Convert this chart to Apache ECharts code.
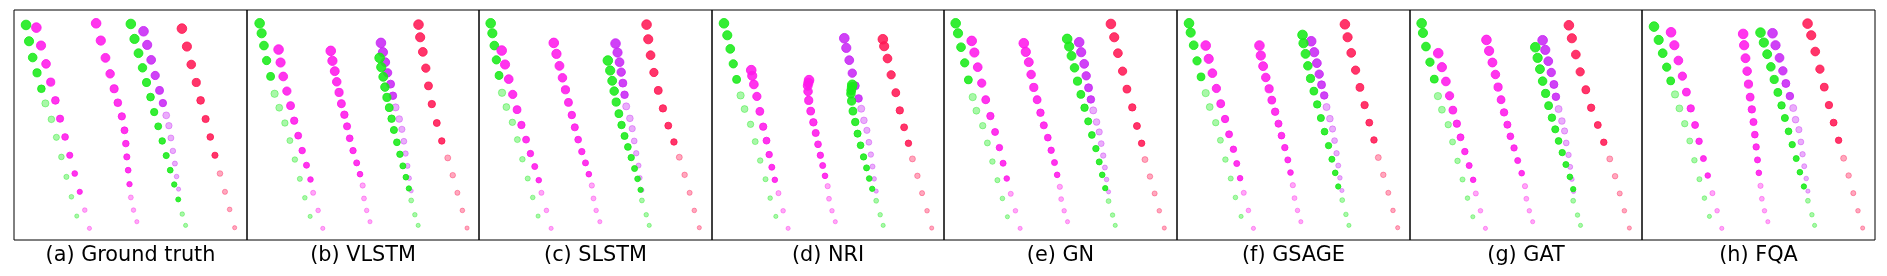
<!DOCTYPE html>
<html><head><meta charset="utf-8">
<script src="https://cdn.jsdelivr.net/npm/echarts@6/dist/echarts.min.js"></script>
<style>html,body{margin:0;padding:0;background:#fff}#c{width:1887px;height:276px}</style>
</head><body><div id="c"></div>
<script>
// Panel captions
const captions = ['(a) Ground truth','(b) VLSTM','(c) SLSTM','(d) NRI','(e) GN','(f) GSAGE','(g) GAT','(h) FQA'];

// Positions in panel units (x: 0..698 left->right, y: 0..692 top->bottom), one list per panel
const greenLeftX = [
 [36,45,56,69,82,94,112,127,142,157,172,188],
 [38,44,51,59,71,83,97,114,129,144,159,174,190],
 [35,40,46,52,60,69,82,100,115,130,146,161,177],
 [36,46,55,64,74,86,98,116,130,145,161,175,192],
 [35,42,51,62,73,86,97,116,130,145,160,175,190],
 [36,41,50,60,72,86,98,116,130,145,161,175,192],
 [35,39,48,60,73,84,96,115,128,143,158,173,189],
 [36,50,62,74,86,99,112,128,143,157,172,187,202]];
const greenLeftY = [
 [45,94,143,189,237,281,329,383,442,502,562,620],
 [40,70,107,152,200,252,294,340,393,450,508,565,621],
 [40,70,107,150,197,249,292,338,390,449,507,564,620],
 [40,76,117,162,209,257,298,344,396,453,509,566,621],
 [40,70,112,159,210,262,303,348,400,456,512,567,622],
 [40,68,106,153,201,250,292,339,392,450,507,564,621],
 [40,69,110,157,208,259,300,345,397,454,510,566,622],
 [50,90,130,172,213,254,296,342,394,452,509,566,621]];

const magentaLeftX = [
 [67,81,96,110,124,138,153,167,182,197,212,226],
 [95,101,109,120,131,142,154,166,179,191,199,214,228],
 [68,78,89,101,114,127,141,154,167,179,187,202,216],
 [118,121,126,135,144,154,164,172,180,189,200,214,229],
 [83,91,101,113,125,139,153,166,177,188,200,214,228],
 [86,95,106,118,131,144,156,169,179,189,200,214,229],
 [85,96,108,119,129,141,152,165,178,190,198,212,227],
 [87,97,109,121,133,146,159,171,184,197,211,225,239]];
const magentaLeftY = [
 [53,107,162,217,272,327,382,437,492,547,602,657],
 [119,158,200,244,288,333,378,423,467,510,550,603,657],
 [122,164,208,254,300,346,390,432,471,512,550,603,657],
 [181,198,224,260,305,351,393,435,473,511,551,604,657],
 [93,128,172,220,270,319,367,414,461,507,553,604,657],
 [107,147,190,236,282,328,374,419,462,506,550,603,657],
 [130,172,215,258,301,342,383,426,468,511,552,604,657],
 [67,106,152,199,247,296,346,395,447,498,551,604,657]];

const magentaMidX = [
 [246,260,274,288,300,311,323,331,335,338,342,346,350,358,368],
 [252,257,264,270,277,284,293,301,309,319,330,340,348,352,360,370],
 [224,232,241,250,259,268,278,287,297,308,319,329,338,343,351,362],
 [292,290,288,289,291,297,305,312,319,326,333,340,348,352,361,371],
 [239,245,254,261,269,279,289,299,311,321,331,339,347,351,360,370],
 [247,251,258,266,276,284,294,304,313,323,332,340,347,352,361,371],
 [230,238,248,257,265,274,283,293,302,313,324,336,346,350,359,369],
 [303,306,310,315,319,324,329,334,338,342,346,350,355,359,367,377]];
const magentaMidY = [
 [40,92,144,192,237,279,320,362,402,442,482,524,564,602,637],
 [123,153,184,216,248,282,315,350,386,423,460,494,528,567,603,637],
 [99,132,168,204,240,278,316,353,390,426,460,494,528,567,603,637],
 [211,219,228,245,272,304,338,370,404,437,468,499,530,568,604,637],
 [100,126,157,194,233,270,309,347,384,422,459,496,532,569,604,637],
 [107,137,169,203,237,271,306,342,378,414,451,489,527,566,603,637],
 [90,123,158,194,232,270,308,345,380,415,453,491,530,568,604,637],
 [72,106,145,184,223,262,299,337,375,412,451,490,529,568,604,637]];

const purpleX = [
 [388,399,411,423,436,446,456,464,470,476,482,487,493],
 [403,409,416,423,432,439,447,458,466,472,477,483,488,494],
 [409,415,421,426,431,436,441,452,459,465,471,478,482,488],
 [398,404,413,422,431,441,449,457,466,472,478,483,488,494],
 [405,411,420,426,433,440,447,457,465,471,477,482,487,493],
 [402,411,419,426,433,441,448,458,466,472,478,483,488,494],
 [399,407,416,425,433,439,447,457,465,470,477,482,487,492],
 [391,400,412,422,431,443,453,460,470,476,481,486,492,497]];
const purpleY = [
 [64,105,150,197,242,280,317,348,385,424,462,501,539],
 [99,127,157,189,223,258,293,328,359,395,432,469,506,544],
 [101,128,157,187,220,255,290,326,357,394,431,468,505,542],
 [85,114,151,190,228,266,297,332,362,398,435,471,508,545],
 [97,127,162,198,234,269,302,337,367,402,438,474,510,547],
 [94,127,160,193,225,257,292,327,358,393,431,468,505,543],
 [91,120,154,188,224,261,298,334,364,400,436,472,509,546],
 [70,106,144,183,221,259,295,330,360,397,434,470,507,545]];

const greenRightX = [
 [350,361,373,385,397,409,420,432,444,456,468,480,492,504,514],
 [399,404,410,415,421,428,435,442,451,460,469,478,487,494,505,515],
 [386,393,399,405,411,419,427,436,446,456,466,475,484,488,501,510],
 [422,421,419,418,420,424,431,438,447,456,465,473,482,494,506,515],
 [369,375,382,391,400,410,421,432,443,455,465,474,483,493,505,513],
 [376,379,385,392,400,410,420,431,442,454,464,474,483,495,506,515],
 [377,384,391,399,408,417,427,437,447,458,469,481,491,491,504,513],
 [355,365,375,386,396,407,418,428,439,450,462,473,485,497,509,517]];
const greenRightY = [
 [42,87,130,174,218,262,307,350,394,438,482,525,570,614,648],
 [144,172,201,232,263,294,327,361,398,434,469,503,537,573,616,648],
 [152,182,213,244,277,312,346,379,412,444,477,508,541,573,616,648],
 [225,232,242,252,274,304,337,372,407,442,475,507,538,574,616,648],
 [87,110,138,174,214,254,294,335,376,417,457,496,536,575,617,648],
 [75,100,132,168,206,244,284,325,366,408,449,490,531,572,615,648],
 [112,144,178,214,251,288,324,359,394,429,465,502,539,574,617,648],
 [68,98,133,171,209,248,287,325,365,405,447,488,531,574,616,648]];

const redX = [
 [503,518,531,546,559,574,588,602,617,632,646,661],
 [516,521,529,538,546,556,571,586,604,619,633,648,662],
 [502,507,514,524,537,551,567,584,600,616,631,645,660],
 [514,518,528,539,553,565,578,591,603,618,632,647,661],
 [500,510,521,535,548,564,578,592,602,617,631,645,660],
 [503,511,522,535,548,562,576,590,603,618,633,647,661],
 [478,487,499,512,529,545,565,583,601,617,631,645,660],
 [496,507,519,533,546,560,574,589,604,619,633,647,661]];
const redY = [
 [56,110,164,218,272,328,382,437,492,547,600,655],
 [44,82,126,175,228,283,340,394,445,497,550,603,656],
 [44,88,136,188,242,296,348,397,443,496,550,603,655],
 [88,109,146,195,249,302,353,401,448,499,551,604,656],
 [42,82,130,184,238,293,349,401,450,501,552,604,656],
 [43,82,129,181,233,286,339,391,444,496,550,603,655],
 [46,85,134,186,240,294,346,398,448,500,552,604,656],
 [41,76,125,178,232,286,339,392,446,498,551,604,656]];

// number of strongly coloured (observed) points per agent
const observedCount = [5, 10, 12, 6, 13, 8];

const agents = [
 {x: greenLeftX,  y: greenLeftY,  obs: observedCount[0], rgb: '25,235,25'},
 {x: magentaLeftX,y: magentaLeftY,obs: observedCount[1], rgb: '255,25,235'},
 {x: magentaMidX, y: magentaMidY, obs: observedCount[2], rgb: '255,25,235'},
 {x: purpleX,     y: purpleY,     obs: observedCount[3], rgb: '200,40,245'},
 {x: greenRightX, y: greenRightY, obs: observedCount[4], rgb: '25,235,25'},
 {x: redX,        y: redY,        obs: observedCount[5], rgb: '255,25,85'}
];

const edges = [14,247,479,712,944,1177,1410,1642,1875];
const TOP = 10, H = 230;
const grid = [], xAxis = [], yAxis = [], series = [];
captions.forEach((cap, k) => {
  const left = edges[k], w = edges[k+1] - edges[k];
  grid.push({left: left, top: TOP, width: w, height: H, show: true, borderColor: '#000', borderWidth: 1, backgroundColor: 'transparent'});
  xAxis.push({type: 'value', gridIndex: k, min: 0, max: 698, show: false});
  yAxis.push({type: 'value', gridIndex: k, min: 0, max: 692, inverse: true, show: false});
  agents.forEach(ag => {
    const xs = ag.x[k], ys = ag.y[k], n = xs.length;
    const data = xs.map((v, i) => {
      const a = i < ag.obs ? 0.88 : 0.38;
      const c = 'rgba(' + ag.rgb + ',' + a + ')';
      return {value: [v, ys[i]], symbolSize: 9.6 - 5.4 * i / (n - 1),
              itemStyle: {color: c, borderColor: c, borderWidth: 1, opacity: 1}};
    });
    series.push({type: 'scatter', xAxisIndex: k, yAxisIndex: k, data: data, symbol: 'circle', clip: false, animation: false, silent: true});
  });
});
const chart = echarts.init(document.getElementById('c'), null, {renderer: 'canvas'});
chart.setOption({animation: false, grid, xAxis, yAxis, series,
  graphic: captions.map((cap, k) => ({type: 'text', x: (edges[k] + edges[k+1]) / 2, y: 256,
    style: {text: cap, font: '20.8px "DejaVu Sans"', fill: '#000', align: 'center', verticalAlign: 'middle'}}))});
</script></body></html>
